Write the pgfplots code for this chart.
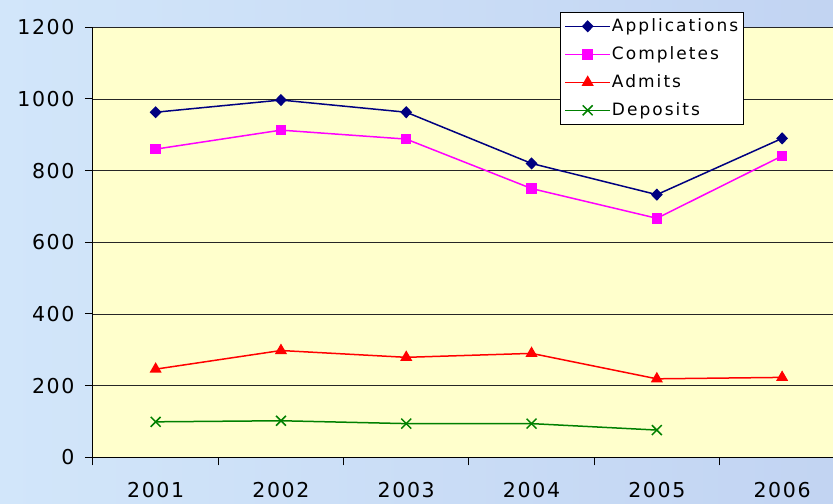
\documentclass[border=0pt]{standalone}
\usepackage{pgfplots}
\pgfplotsset{compat=1.18}
\usepackage{fontspec}
\setmainfont{DejaVu Sans}[LetterSpace=12]
\newfontfamily\tickfont{DejaVu Sans}[LetterSpace=8]
\definecolor{bgL}{HTML}{D2E6FA}
\definecolor{bgM}{HTML}{E2F8FE}
\definecolor{bgR}{HTML}{C2D4F2}
\definecolor{plotbg}{HTML}{FFFFCC}
\definecolor{appc}{HTML}{000080}
\definecolor{compc}{HTML}{FF00FF}
\definecolor{admc}{HTML}{FF0000}
\definecolor{depc}{HTML}{008000}
\begin{document}
\begin{tikzpicture}
\shade[left color=bgL, middle color=bgM, right color=bgR] (-93bp,-46.7bp) rectangle (740bp,457.3bp);
\begin{axis}[
  at={(0,0)}, anchor=south west,
  scale only axis, width=740bp, height=430bp,
  xmin=0.5, xmax=6.406, ymin=0, ymax=1200,
  axis x line*=bottom, axis y line*=left,
  axis line style={black, line width=1bp},
  axis background/.style={fill=plotbg},
  tick align=outside,
  xtick={1,2,3,4,5,6},
  xticklabels={2001,2002,2003,2004,2005,2006},
  major x tick style={draw=none},
  minor xtick={0.5,1.5,2.5,3.5,4.5,5.5},
  minor x tick style={black, line width=1bp},
  minor tick length=8bp,
  ytick={0,200,400,600,800,1000,1200},
  major y tick style={black, line width=1bp},
  major tick length=8bp,
  ymajorgrids,
  major grid style={black!85, line width=0.8bp},
  /pgf/number format/assume math mode=true,
  /pgf/number format/1000 sep={},
  ticklabel style={font=\tickfont\fontsize{20.5bp}{24bp}\selectfont},
  xticklabel style={yshift=-13bp},
  yticklabel style={xshift=-7bp},
  every axis plot/.append style={line width=1.5bp},
  legend image code/.code={\draw[mark repeat=2,mark phase=2,#1] plot coordinates {(0bp,0bp) (22.5bp,0bp) (45bp,0bp)};},
  legend cell align=left,
  legend style={at={(0.631,1.036)}, anchor=north west, draw=black, line width=1bp, fill=white,
    font=\fontsize{17bp}{20bp}\selectfont, inner sep=4bp, row sep=8bp,
    nodes={inner sep=1bp, text height=14bp, text depth=4bp}},
]
\addplot[color=appc, mark=diamond*, mark size=5bp, mark options={xscale=1.3, solid}] coordinates {(1,963) (2,997) (3,963) (4,820) (5,733) (6,890)};
\addlegendentry{Applications}
\addplot[color=compc, mark=square*, mark size=4.5bp, mark options={solid}] coordinates {(1,860) (2,913) (3,888) (4,750) (5,667) (6,841)};
\addlegendentry{Completes}
\addplot[color=admc, mark=triangle*, mark size=5.5bp, mark options={solid}] coordinates {(1,246) (2,298) (3,279) (4,290) (5,219) (6,223)};
\addlegendentry{Admits}
\addplot[color=depc, mark=x, mark size=7bp, mark options={solid}] coordinates {(1,99) (2,102) (3,94) (4,94) (5,76)};
\addlegendentry{Deposits}
\end{axis}
\pgfresetboundingbox
\path[use as bounding box] (-93bp,-46.7bp) rectangle (740bp,457.3bp);
\end{tikzpicture}
\end{document}
